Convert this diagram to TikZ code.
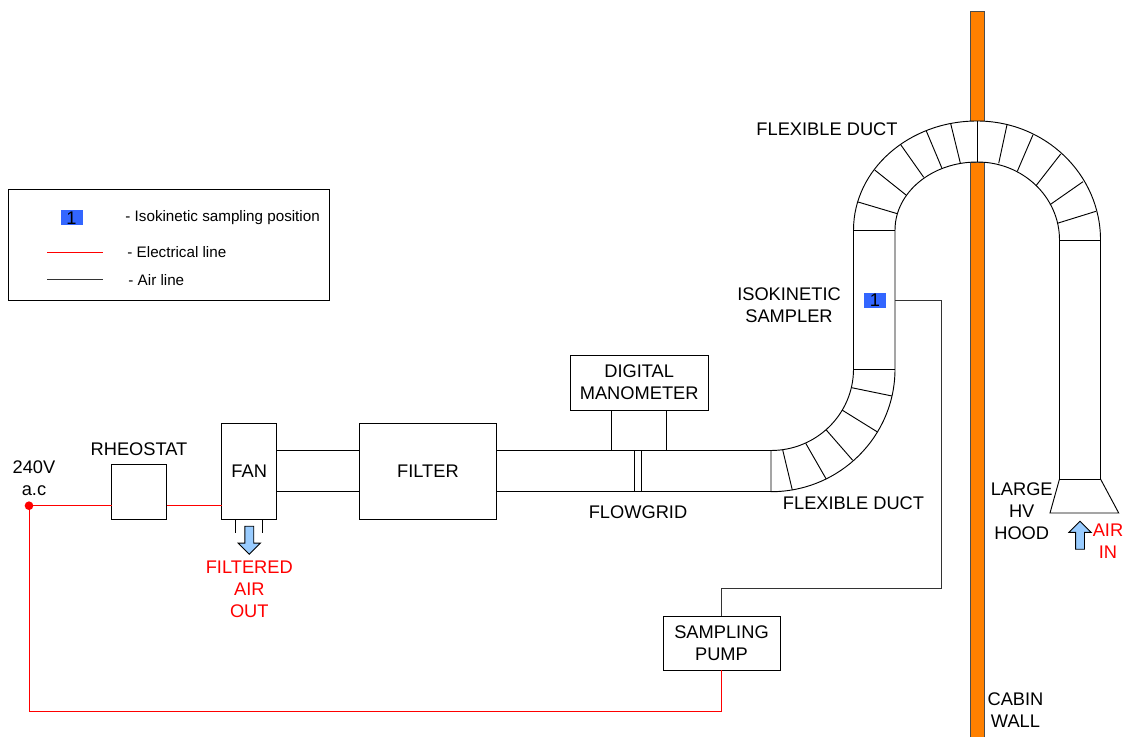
\documentclass[tikz,border=0pt]{standalone}
\usepackage{fontspec}
\setmainfont{Liberation Sans}
\usetikzlibrary{shapes.arrows}
\definecolor{wallorange}{HTML}{FF8000}
\definecolor{markerblue}{HTML}{3366FF}
\definecolor{arrowblue}{HTML}{99CCFF}
\begin{document}
\begin{tikzpicture}[
  x=0.75pt,y=-0.75pt,line width=0.7pt,
  font=\fontsize{13.7}{16.5}\selectfont,
  box/.style={draw,align=center,inner sep=0pt,outer sep=0pt},
  lbl/.style={align=center,inner sep=0pt},
  redlbl/.style={lbl,text=red},
  legendtxt/.style={anchor=west,inner sep=0pt,font=\fontsize{11.4}{13}\selectfont},
  marker/.style={fill=markerblue,inner sep=0pt,outer sep=0pt,minimum width=16.5pt,minimum height=11pt},
  wall/.style={draw=black!70,fill=wallorange},
  elecline/.style={draw=red},
  airline/.style={draw=black!80},
  flowarrow/.style={shape=single arrow,draw,fill=arrowblue,inner sep=3pt,outer sep=0pt,
    minimum height=21pt,minimum width=16pt,single arrow head extend=5pt,single arrow head indent=0pt}]
\useasboundingbox (0,0) rectangle (1126,737);
% cabin wall
\draw[wall] (970,11) rectangle (984,121);
\draw[wall] (970,162) rectangle (984,737);
% legend
\node[box,minimum width=240.5pt,minimum height=83.25pt] (legend) at (168.85,244.8) {};
\node[marker] (legmark) at (71.5,217.8) {1};
\node[legendtxt] (legmarktxt) at (125,217.5) {- Isokinetic sampling position};
\coordinate (legreda) at (47,252);
\coordinate (legredb) at (102.7,252);
\coordinate (legaira) at (47,279.7);
\coordinate (legairb) at (102.7,279.7);
\node[legendtxt] (legredtxt) at (127,252) {- Electrical line};
\node[legendtxt] (legairtxt) at (128,280) {- Air line};
% boxes along the air line
\node[box,minimum width=41.25pt,minimum height=41pt] (rheostat) at (139.2,491.7) {};
\node[box,minimum width=41.25pt,minimum height=72.2pt] (fan) at (249.2,471.2) {FAN};
\node[box,minimum width=103.3pt,minimum height=72.2pt] (filter) at (427.9,471.2) {FILTER};
\node[box,minimum width=103.3pt,minimum height=41.5pt] (manometer) at (639.2,382.7) {DIGITAL\\MANOMETER};
\node[box,minimum width=87.75pt,minimum height=40.5pt] (pump) at (721.5,643) {SAMPLING\\PUMP};
% electrical line
\coordinate (acin) at (29,505.7);
\coordinate (retcorner) at (29,711.5);
\draw[elecline] (legreda) -- (legredb)
  (acin) -- (acin -| rheostat.west)
  (acin -| rheostat.east) -- (acin -| fan.west)
  (pump.south) |- (retcorner) -- (acin);
\node[circle,fill=red,inner sep=0pt,minimum size=6.5pt] (acdot) at (acin) {};
\draw[airline] (legaira) -- (legairb);
\coordinate (ducttop) at (771,450.5);
\coordinate (ductbot) at (771,491.7);
\draw (ducttop -| fan.east) -- (ducttop -| filter.west);
\draw (ductbot -| fan.east) -- (ductbot -| filter.west);
\draw (ducttop -| filter.east) -- (ducttop) -- (ductbot) -- (ductbot -| filter.east);
\coordinate (legl) at (611.3,450.5);
\coordinate (legr) at (666.7,450.5);
\draw (legl |- manometer.south) -- (legl);
\draw (legr |- manometer.south) -- (legr);
\draw (634.3,450.5) -- (634.3,491.7) (641.7,450.5) -- (641.7,491.7);
% fan outlet
\coordinate (outl) at (235.3,533.3);
\coordinate (outr) at (262.7,533.3);
\draw (outl |- fan.south) -- (outl);
\draw (outr |- fan.south) -- (outr);
\node[flowarrow,rotate=-90] (outarrow) at (249.3,538) {};
% flexible duct and hood
\draw[fill=white] (771,450.5) arc[start angle=90,end angle=0,x radius=82.5,y radius=81.5]
  -- (853.5,230) arc[start angle=180,end angle=270,x radius=123.5,y radius=109]
  arc[start angle=270,end angle=360,x radius=123.5,y radius=119]
  -- (1100.5,479) -- (1118.7,513) -- (1050,513) -- (1059.5,479) -- (1059.5,240)
  arc[start angle=0,end angle=-90,x radius=82.25,y radius=78]
  arc[start angle=-90,end angle=-180,x radius=82.25,y radius=68]
  -- (895,369) arc[start angle=0,end angle=90,x radius=124,y radius=122.7] -- cycle;
\draw (853.5,369) -- (895,369) (853.5,230) -- (895,230) (1059.5,240) -- (1100.5,240) (1059.5,479) -- (1100.5,479);
\foreach \xa/\ya/\xb/\yb in {
  851.7/387.7/892/396, 842/410/877/431.7, 826/429.7/852.7/460.3,
  805.7/443.3/826/478.7, 782.7/450/792.3/490,
  858/202/897.3/213.7, 874.7/170/906/195, 900.7/144.7/923.7/177.3,
  926.3/131/941.7/167.7, 950.7/123.7/960.3/163, 977.5/121/977.5/162,
  1007/124.7/998.7/163.3, 1033/134.7/1017.3/171.3, 1060.7/154/1036/185.7,
  1083/181.7/1050/204.7, 1096/211.3/1057.3/223.3}
  \draw (\xa,\ya) -- (\xb,\yb);
\node[flowarrow,rotate=90] (inarrow) at (1080,537.5) {};
% sampler
\node[marker] (sampler) at (875,300.7) {1};
\coordinate (tap) at (895,300);
\coordinate (tapa) at (941,300);
\coordinate (tapb) at (941,588);
\draw[airline] (tap) -- (tapa) -- (tapb) -| (pump.north);
% labels
\node[lbl] (aclbl) at (34,478) {240V\\a.c};
\node[lbl] (rheolbl) at (139,449) {RHEOSTAT};
\node[redlbl] (outlbl) at (249.3,589) {FILTERED\\AIR\\OUT};
\node[lbl] (gridlbl) at (638,512) {FLOWGRID};
\node[lbl] (flexlow) at (853.5,503.5) {FLEXIBLE DUCT};
\node[lbl] (flexup) at (827,129.5) {FLEXIBLE DUCT};
\node[lbl] (samplbl) at (789,305.5) {ISOKINETIC\\SAMPLER};
\node[lbl] (hoodlbl) at (1021.7,511.5) {LARGE\\HV\\HOOD};
\node[redlbl] (inlbl) at (1108,541) {AIR\\IN};
\node[lbl] (walllbl) at (1015.5,710.5) {CABIN\\WALL};
\end{tikzpicture}
\end{document}
